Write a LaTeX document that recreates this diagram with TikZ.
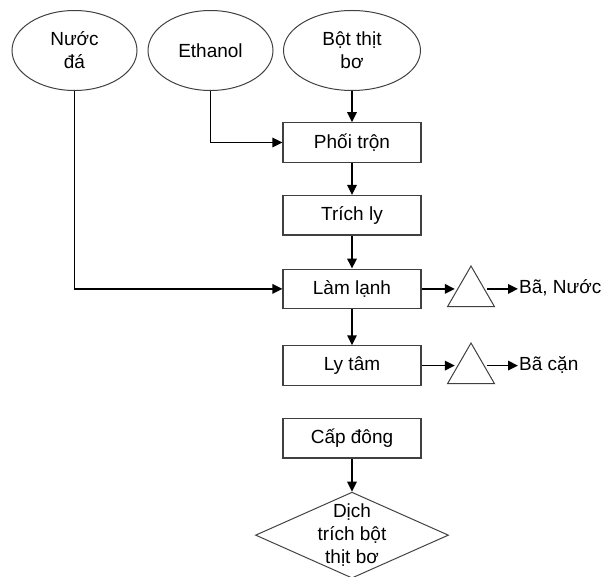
\documentclass[tikz,border=0pt]{standalone}
\usepackage{fontspec}
\setmainfont{Liberation Sans}
\usetikzlibrary{shapes, arrows.meta, positioning}

\begin{document}
\begin{tikzpicture}[
        x=1pt, y=-1pt,
        every node/.style={font=\fontsize{19}{23}\selectfont},
        source/.style={ellipse, draw=black!75, line width=1pt, minimum width=125pt, minimum height=80pt, inner sep=1pt, align=center},
        stage/.style={rectangle, draw=black!75, line width=1.2pt, minimum width=138pt, minimum height=39.5pt},
        separator/.style={regular polygon, regular polygon sides=3, draw=black!75, line width=1pt, minimum size=54pt, inner sep=0pt},
        product/.style={diamond, draw=black!75, line width=1pt, minimum width=193pt, minimum height=86pt, inner sep=0pt},
        outtext/.style={anchor=west, inner sep=1pt},
        link/.style={-{Triangle[length=10pt, width=9.5pt]}, line width=1.7pt}
    ]
    \useasboundingbox (0,0) rectangle (610,577);

    % Inputs
    \node[source] (nuoc) at (74.5,50.5) {Nước\\đá};
    \node[source] (ethanol) at (210.5,50.5) {Ethanol};
    \node[source, minimum width=137pt] (bot) at (352,50.5) {Bột thịt\\bơ};

    % Process chain
    \node[stage] (phoitron) at (352,142.5) {Phối trộn};
    \node[stage, below=32pt of phoitron] (trichly) {Trích ly};
    \node[stage, below=33pt of trichly] (lamlanh) {Làm lạnh};
    \node[stage, below=36pt of lamlanh] (lytam) {Ly tâm};
    \node[stage, below=32pt of lytam] (capdong) {Cấp đông};
    \node[product, below=33pt of capdong, label={[align=center]center:Dịch\\trích bột\\thịt bơ}] (dich) {};

    % Separation
    \node[separator] (tri1) at (471,293) {};
    \node[separator] (tri2) at (471,370) {};
    \node[outtext] (bn) at (518,288) {Bã, Nước};
    \node[outtext] (bc) at (518,365) {Bã cặn};

    % Edges
    \draw[link] (bot) -- (phoitron);
    \draw[link] (ethanol) |- (phoitron);
    \draw[link] (phoitron) -- (trichly);
    \draw[link] (trichly) -- (lamlanh);
    \draw[link] (nuoc) |- (lamlanh);
    \draw[link] (lamlanh) -- (lytam);
    \draw[link] (capdong) -- (dich);
    \draw[link] (lamlanh.east) -- (lamlanh.east -| tri1.west);
    \draw[link] (lamlanh.east -| tri1.east) -- (lamlanh.east -| bn.west);
    \draw[link] (lytam.east) -- (lytam.east -| tri2.west);
    \draw[link] (lytam.east -| tri2.east) -- (lytam.east -| bc.west);

\end{tikzpicture}
\end{document}
